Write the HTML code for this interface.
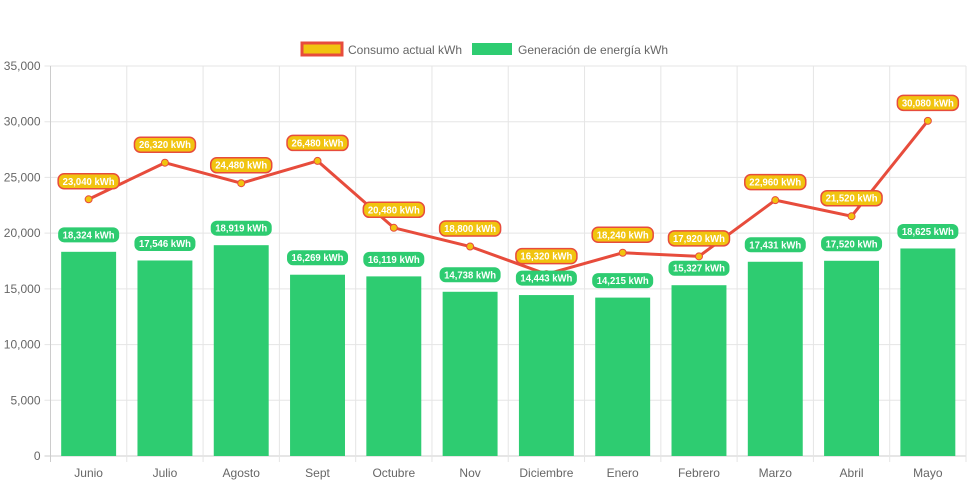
<!DOCTYPE html>
<html><head><meta charset="utf-8"><style>
body{margin:0;background:#fff;font-family:"Liberation Sans",sans-serif}
</style></head><body>
<svg id="c" width="971" height="485" xmlns="http://www.w3.org/2000/svg" style="font-family:'Liberation Sans',sans-serif"></svg>
<script>
const categories=["Junio","Julio","Agosto","Sept","Octubre","Nov","Diciembre","Enero","Febrero","Marzo","Abril","Mayo"];
const consumo=[23040,26320,24480,26480,20480,18800,16320,18240,17920,22960,21520,30080];
const generacion=[18324,17546,18919,16269,16119,14738,14443,14215,15327,17431,17520,18625];
const yTicks=[0,5000,10000,15000,20000,25000,30000,35000];
const L=50.5,R=966,T=66,B=456,yMax=35000;
const svg=document.getElementById('c');const NS='http://www.w3.org/2000/svg';
const cw=(R-L)/categories.length;
const x=i=>L+cw*(i+0.5);
const y=v=>B-(v/yMax)*(B-T);
function mk(t,a,p){const e=document.createElementNS(NS,t);for(const k in a)e.setAttribute(k,a[k]);(p||svg).appendChild(e);return e;}
const fmt=v=>v.toLocaleString('en-US');
yTicks.forEach(v=>{
 const l=mk('line',{x1:L-6,x2:R,y1:y(v),y2:y(v),stroke:v===0?'#ccc':'#e5e5e5'});
 
 
 const t=mk('text',{x:L-10,y:y(v)+4,'text-anchor':'end','font-size':12,fill:'#666'});t.textContent=fmt(v);
 
 
});
for(let i=0;i<=categories.length;i++){
 const gx=L+cw*i;
 const l=mk('line',{x1:gx,x2:gx,y1:T,y2:B+6,stroke:i===0?'#ccc':'#e5e5e5'});
 
 
}
categories.forEach((c,i)=>{
 const t=mk('text',{x:x(i),y:B+21,'text-anchor':'middle','font-size':12,fill:'#666'});t.textContent=c;
 
 
});
const bw=cw*0.72;
generacion.forEach((v,i)=>{
 const r=mk('rect',{x:x(i)-bw/2,y:y(v),width:bw,height:B-y(v),fill:'#2ecc71'});
 
 
});
mk('polyline',{points:consumo.map((v,i)=>x(i)+','+y(v)).join(' '),fill:'none',stroke:'#e74c3c','stroke-width':3});
consumo.forEach((v,i)=>{
 const p=mk('circle',{cx:x(i),cy:y(v),r:3.5,fill:'#f1c40f',stroke:'#e74c3c','stroke-width':1});
 
 
});
function pill(cx,cy,txt,fill,stroke,name){
 const w=txt.length*5.3+8;
 const r=mk('rect',{x:cx-w/2,y:cy-7.5,width:w,height:15,rx:6,fill:fill,stroke:stroke,'stroke-width':stroke==='none'?0:1.5});
 
 
 const t=mk('text',{x:cx,y:cy+3.5,'text-anchor':'middle','font-size':10,'font-weight':'bold',fill:'#fff',textLength:w-9,lengthAdjust:'spacingAndGlyphs'});t.textContent=txt;
 
 
}
generacion.forEach((v,i)=>pill(x(i),y(v)-17,fmt(v)+' kWh','#2ecc71','none','generacion-value-label'));
consumo.forEach((v,i)=>pill(x(i),y(v)-18,fmt(v)+' kWh','#f1c40f','#e74c3c','consumo-value-label'));
const lg=mk('g',{});
const r1=mk('rect',{x:302,y:43,width:40,height:12,fill:'#f1c40f',stroke:'#e74c3c','stroke-width':3},lg);

const t1=mk('text',{x:348,y:54,'font-size':12,fill:'#666'},lg);t1.textContent='Consumo actual kWh';

const r2=mk('rect',{x:472,y:43,width:40,height:12,fill:'#2ecc71'},lg);

const t2=mk('text',{x:518,y:54,'font-size':12,fill:'#666'},lg);t2.textContent='Generación de energía kWh';

</script>
</body></html>
